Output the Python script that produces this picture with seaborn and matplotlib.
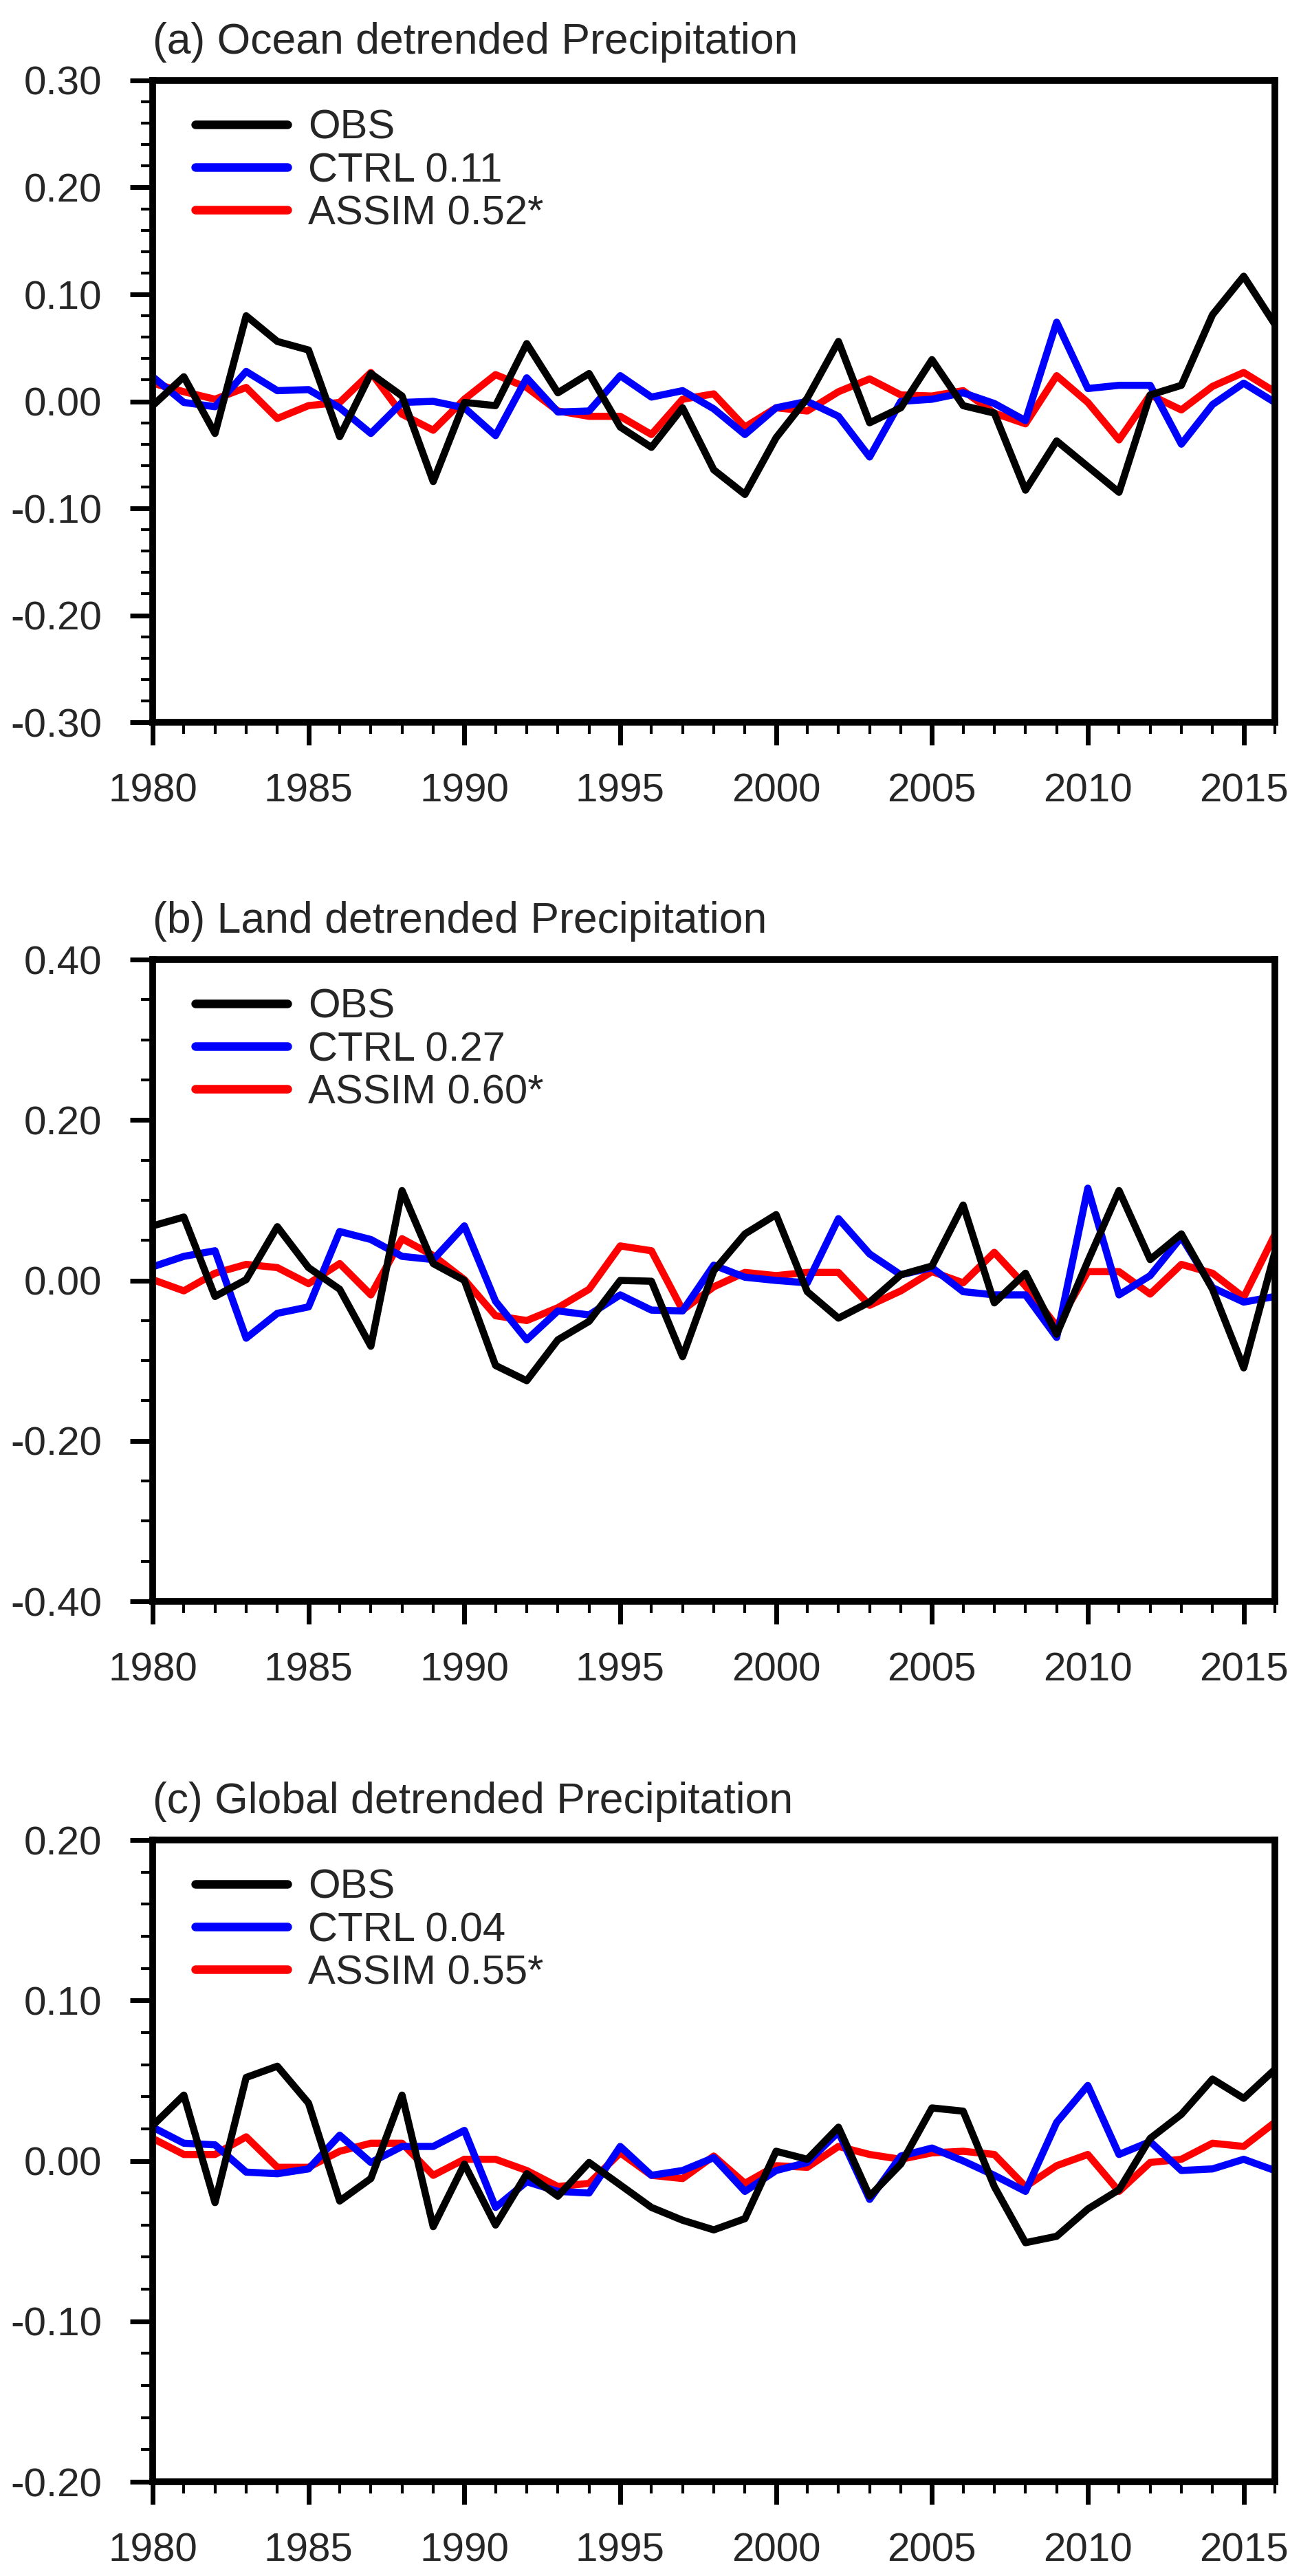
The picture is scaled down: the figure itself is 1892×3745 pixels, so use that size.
import numpy as np
import pandas as pd
import matplotlib
matplotlib.use("Agg")
import matplotlib.pyplot as plt
from matplotlib.ticker import MultipleLocator, FormatStrFormatter
import seaborn as sns

# ================================
# Data
# ================================
years = np.arange(1980, 2017)

ocean_obs = [-0.004, 0.023, -0.030, 0.080, 0.056, 0.048, -0.033, 0.026, 0.005, -0.075,
             -0.001, -0.004, 0.054, 0.008, 0.026, -0.024, -0.043, -0.006, -0.064, -0.087,
             -0.034, 0.003, 0.056, -0.020, -0.006, 0.039, -0.004, -0.011, -0.083, -0.037,
             -0.061, -0.085, 0.006, 0.015, 0.081, 0.117, 0.072]
ocean_ctrl = [0.023, -0.001, -0.005, 0.028, 0.010, 0.011, -0.006, -0.030, -0.001, 0.000,
              -0.006, -0.032, 0.022, -0.010, -0.009, 0.024, 0.004, 0.010, -0.007, -0.031,
              -0.006, 0.000, -0.014, -0.052, 0.000, 0.002, 0.008, -0.002, -0.018, 0.074,
              0.012, 0.015, 0.015, -0.040, -0.003, 0.017, -0.001]
ocean_assim = [0.017, 0.009, 0.002, 0.013, -0.016, -0.004, -0.001, 0.027, -0.012, -0.027,
               0.002, 0.025, 0.013, -0.009, -0.014, -0.014, -0.031, 0.002, 0.007, -0.024,
               -0.006, -0.009, 0.009, 0.021, 0.006, 0.005, 0.010, -0.011, -0.021, 0.024,
               -0.001, -0.036, 0.006, -0.008, 0.014, 0.027, 0.009]

land_obs = [0.068, 0.079, -0.020, 0.001, 0.067, 0.016, -0.011, -0.082, 0.112, 0.021,
            0.000, -0.106, -0.125, -0.074, -0.051, 0.000, -0.001, -0.095, 0.012, 0.058,
            0.082, -0.014, -0.047, -0.027, 0.007, 0.018, 0.094, -0.028, 0.009, -0.067,
            0.024, 0.112, 0.026, 0.058, -0.011, -0.109, 0.035]
land_ctrl = [0.017, 0.030, 0.037, -0.072, -0.041, -0.033, 0.061, 0.051, 0.030, 0.026,
             0.068, -0.026, -0.074, -0.038, -0.043, -0.018, -0.037, -0.038, 0.019, 0.004,
             0.000, -0.003, 0.077, 0.033, 0.007, 0.016, -0.014, -0.018, -0.018, -0.071,
             0.115, -0.018, 0.006, 0.054, -0.009, -0.027, -0.020]
land_assim = [0.001, -0.013, 0.009, 0.020, 0.016, -0.004, 0.021, -0.018, 0.052, 0.031,
              0.001, -0.044, -0.050, -0.034, -0.011, 0.043, 0.037, -0.037, -0.008, 0.010,
              0.006, 0.010, 0.010, -0.031, -0.013, 0.011, -0.003, 0.035, -0.007, -0.057,
              0.011, 0.011, -0.017, 0.020, 0.009, -0.021, 0.057]

global_obs = [0.022, 0.041, -0.026, 0.052, 0.059, 0.036, -0.025, -0.011, 0.041, -0.041,
              -0.002, -0.040, -0.008, -0.022, -0.001, -0.015, -0.029, -0.037, -0.043, -0.036,
              0.006, 0.001, 0.021, -0.022, -0.002, 0.033, 0.031, -0.016, -0.051, -0.047,
              -0.030, -0.018, 0.014, 0.029, 0.051, 0.039, 0.057]
global_ctrl = [0.021, 0.011, 0.010, -0.007, -0.008, -0.005, 0.016, -0.001, 0.009, 0.009,
               0.019, -0.029, -0.013, -0.019, -0.020, 0.009, -0.009, -0.006, 0.002, -0.019,
               -0.006, -0.001, 0.018, -0.024, 0.003, 0.008, 0.000, -0.009, -0.019, 0.024,
               0.047, 0.004, 0.012, -0.006, -0.005, 0.001, -0.006]
global_assim = [0.014, 0.004, 0.004, 0.015, -0.004, -0.004, 0.006, 0.011, 0.011, -0.009,
                0.001, 0.001, -0.006, -0.016, -0.014, 0.005, -0.009, -0.011, 0.003, -0.014,
                -0.003, -0.004, 0.009, 0.004, 0.001, 0.005, 0.006, 0.004, -0.016, -0.003,
                0.004, -0.019, -0.001, 0.001, 0.011, 0.009, 0.024]

titles = ["(a) Ocean detrended Precipitation",
          "(b) Land detrended Precipitation",
          "(c) Global detrended Precipitation"]
ctrl_corr = ["0.11", "0.27", "0.04"]
assim_corr = ["0.52*", "0.60*", "0.55*"]
y_limits = [0.30, 0.40, 0.20]
y_major = [0.10, 0.20, 0.10]
y_minor = [0.02, 0.05, 0.02]

panels = [
    (ocean_obs, ocean_ctrl, ocean_assim),
    (land_obs, land_ctrl, land_assim),
    (global_obs, global_ctrl, global_assim),
]

# ================================
# Style
# ================================
sns.set_style("white")
plt.rcParams["font.family"] = ["Liberation Sans", "DejaVu Sans"]

W, H = 1892, 3745
fig = plt.figure(figsize=(W / 100, H / 100), dpi=100)

ax_left, ax_right = 222, 1854
ax_tops = [117, 1395, 2675]
ax_h = 933

for i, (obs, ctrl, assim) in enumerate(panels):
    top = ax_tops[i]
    ax = fig.add_axes([ax_left / W, 1 - (top + ax_h) / H,
                       (ax_right - ax_left) / W, ax_h / H])

    df = pd.DataFrame({"Year": years, "OBS": obs, "CTRL": ctrl, "ASSIM": assim})

    # draw red, then blue, then black on top
    sns.lineplot(data=df, x="Year", y="ASSIM", color="#ff0000", linewidth=7.5,
                 label=f"ASSIM {assim_corr[i]}", ax=ax)
    sns.lineplot(data=df, x="Year", y="CTRL", color="#0000ff", linewidth=7.5,
                 label=f"CTRL {ctrl_corr[i]}", ax=ax)
    sns.lineplot(data=df, x="Year", y="OBS", color="black", linewidth=7.5,
                 label="OBS", ax=ax)

    ax.set_xlim(1980, 2016)
    ax.set_ylim(-y_limits[i], y_limits[i])
    ax.xaxis.set_major_locator(MultipleLocator(5))
    ax.xaxis.set_minor_locator(MultipleLocator(1))
    ax.yaxis.set_major_locator(MultipleLocator(y_major[i]))
    ax.yaxis.set_minor_locator(MultipleLocator(y_minor[i]))
    ax.yaxis.set_major_formatter(FormatStrFormatter("%.2f"))
    ax.set_xlabel("")
    ax.set_ylabel("")

    ax.tick_params(axis="both", which="major", direction="out", length=24,
                   width=5, labelsize=42, pad=29, color="black",
                   bottom=True, left=True, top=False, right=False)
    ax.tick_params(axis="both", which="minor", direction="out", length=12,
                   width=3, color="black",
                   bottom=True, left=True, top=False, right=False)

    for sp in ax.spines.values():
        sp.set_linewidth(7)
        sp.set_color("black")
        sp.set_visible(True)

    ax.set_title(titles[i], loc="left", fontsize=45, pad=28)

    handles, labels = ax.get_legend_handles_labels()
    order = [2, 1, 0]
    leg = ax.legend([handles[k] for k in order], [labels[k] for k in order],
                    loc="upper left", bbox_to_anchor=(0.038, 0.955),
                    frameon=False, fontsize=43, handlelength=2.25,
                    handletextpad=0.5, labelspacing=0.12,
                    borderpad=0, borderaxespad=0)
    for ln in leg.get_lines():
        ln.set_linewidth(9)
        ln.set_solid_capstyle("round")

plt.savefig("out.png", dpi=100)
